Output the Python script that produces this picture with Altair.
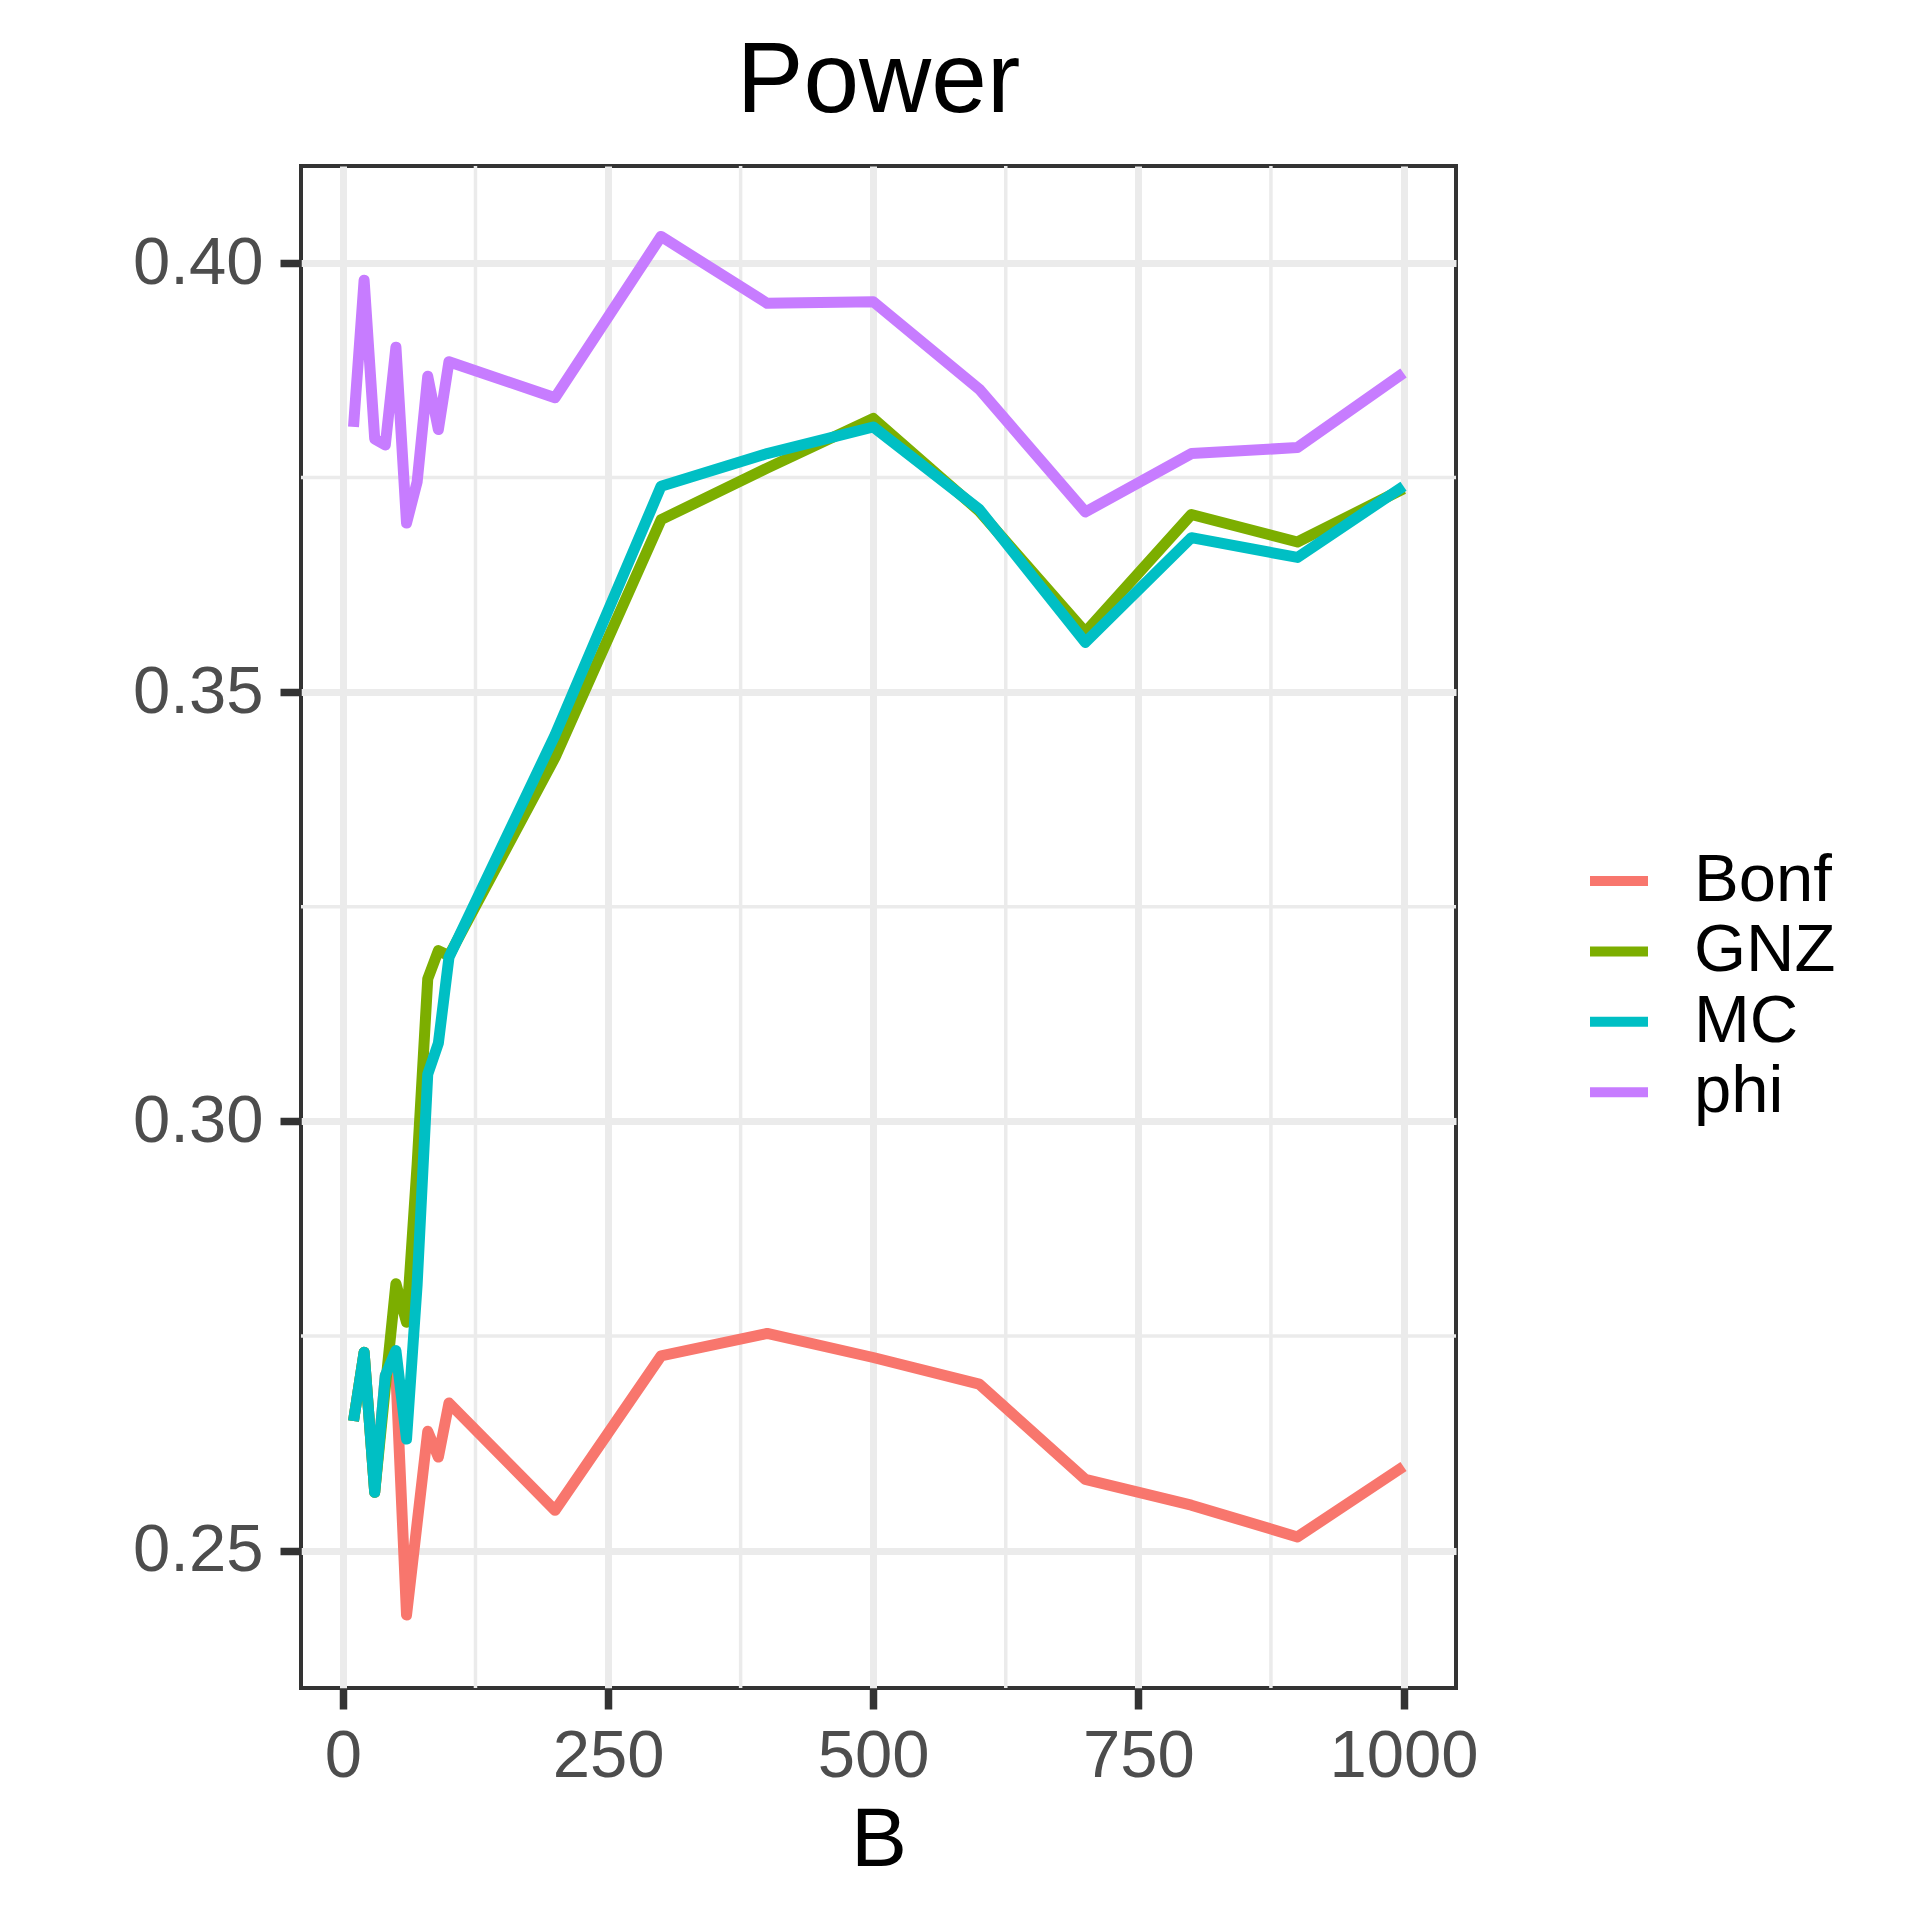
import altair as alt
import pandas as pd

# ---- data ----
B = [10, 20, 30, 40, 50, 60, 70, 80, 90, 100, 200, 300, 400, 500, 600, 700, 800, 900, 1000]
bonf = [0.2651, 0.2731, 0.2568, 0.2704, 0.2705, 0.2425, 0.2532, 0.2639, 0.2609, 0.2672,
        0.2547, 0.2727, 0.2753, 0.2725, 0.2694, 0.2583, 0.2553, 0.2516, 0.2598]
gnz = [0.2651, 0.2731, 0.2568, 0.2690, 0.2811, 0.2766, 0.2950, 0.3166, 0.3199, 0.3193,
       0.3424, 0.3701, 0.3761, 0.3819, 0.3711, 0.3570, 0.3707, 0.3675, 0.3737]
mc = [0.2651, 0.2731, 0.2568, 0.2704, 0.2733, 0.2630, 0.2810, 0.3055, 0.3091, 0.3191,
      0.3450, 0.3740, 0.3778, 0.3809, 0.3713, 0.3558, 0.3680, 0.3657, 0.3740]
phi = [0.3809, 0.3980, 0.3795, 0.3788, 0.3902, 0.3697, 0.3745, 0.3868, 0.3806, 0.3885,
       0.3843, 0.4031, 0.3953, 0.3955, 0.3853, 0.3710, 0.3778, 0.3785, 0.3872]

methods = ["Bonf", "GNZ", "MC", "phi"]
colors = ["#F8766D", "#7CAE00", "#00BFC4", "#C77CFF"]

x_major = [0, 250, 500, 750, 1000]
x_minor = [125, 375, 625, 875]
y_major = [0.25, 0.30, 0.35, 0.40]
y_minor = [0.275, 0.325, 0.375]

x_domain = [-39.5, 1049.5]
y_domain = [0.2340, 0.4113]

# ---- tables ----
rows = []
for name, vals in zip(methods, [bonf, gnz, mc, phi]):
    for b, v in zip(B, vals):
        rows.append({"B": b, "value": v, "method": name})
df = pd.DataFrame(rows)
df_xminor = pd.DataFrame({"x": x_minor})
df_yminor = pd.DataFrame({"y": y_minor})

FONT = "Liberation Sans"
GRID = "#EBEBEB"

xscale = alt.Scale(domain=x_domain, nice=False, zero=False)
yscale = alt.Scale(domain=y_domain, nice=False, zero=False)

vminor = alt.Chart(df_xminor).mark_rule(color=GRID, strokeWidth=3.5).encode(
    x=alt.X("x:Q", scale=xscale)
)
hminor = alt.Chart(df_yminor).mark_rule(color=GRID, strokeWidth=3.5).encode(
    y=alt.Y("y:Q", scale=yscale)
)

lines = alt.Chart(df).mark_line(strokeWidth=11, strokeJoin="round", strokeCap="butt").encode(
    x=alt.X("B:Q", scale=xscale,
            axis=alt.Axis(values=x_major, format="d", title="B", grid=True, gridColor=GRID,
                          gridWidth=7, labelFontSize=67, labelColor="#4D4D4D", labelFont=FONT,
                          labelPadding=14, tickSize=21, tickWidth=7.5, tickColor="#333333",
                          domain=False, titleFontSize=84, titleFont=FONT, titleColor="black",
                          titleFontWeight="normal", titlePadding=10, labelFlush=False)),
    y=alt.Y("value:Q", scale=yscale,
            axis=alt.Axis(values=y_major, title="", format=".2f", grid=True, gridColor=GRID,
                          gridWidth=7, labelFontSize=67, labelColor="#4D4D4D", labelFont=FONT,
                          labelPadding=17, tickSize=21, tickWidth=7.5, tickColor="#333333",
                          domain=False, labelFlush=False)),
    color=alt.Color("method:N", scale=alt.Scale(domain=methods, range=colors),
                    legend=alt.Legend(title=None, orient="none", legendX=1284, legendY=681,
                                      symbolType="stroke", symbolSize=3364, symbolStrokeWidth=10,
                                      labelFontSize=67, labelFont=FONT, labelColor="black",
                                      labelOffset=41, rowPadding=3.4)),
    order=alt.Order("B:Q"),
)

chart = alt.layer(vminor, hminor, lines).properties(
    width=1155,
    height=1522,
    background="white",
    title=alt.TitleParams("Power", fontSize=100, font=FONT, color="black", fontWeight="normal",
                          anchor="middle", frame="group", baseline="alphabetic", offset=-48),
    autosize=alt.AutoSizeParams(type="none"),
    padding={"left": 293, "top": 158, "right": 400, "bottom": 200},
).configure_view(
    stroke="#333333", strokeWidth=4
)

chart.save("out.html", embed_options={"renderer": "svg", "actions": False})
